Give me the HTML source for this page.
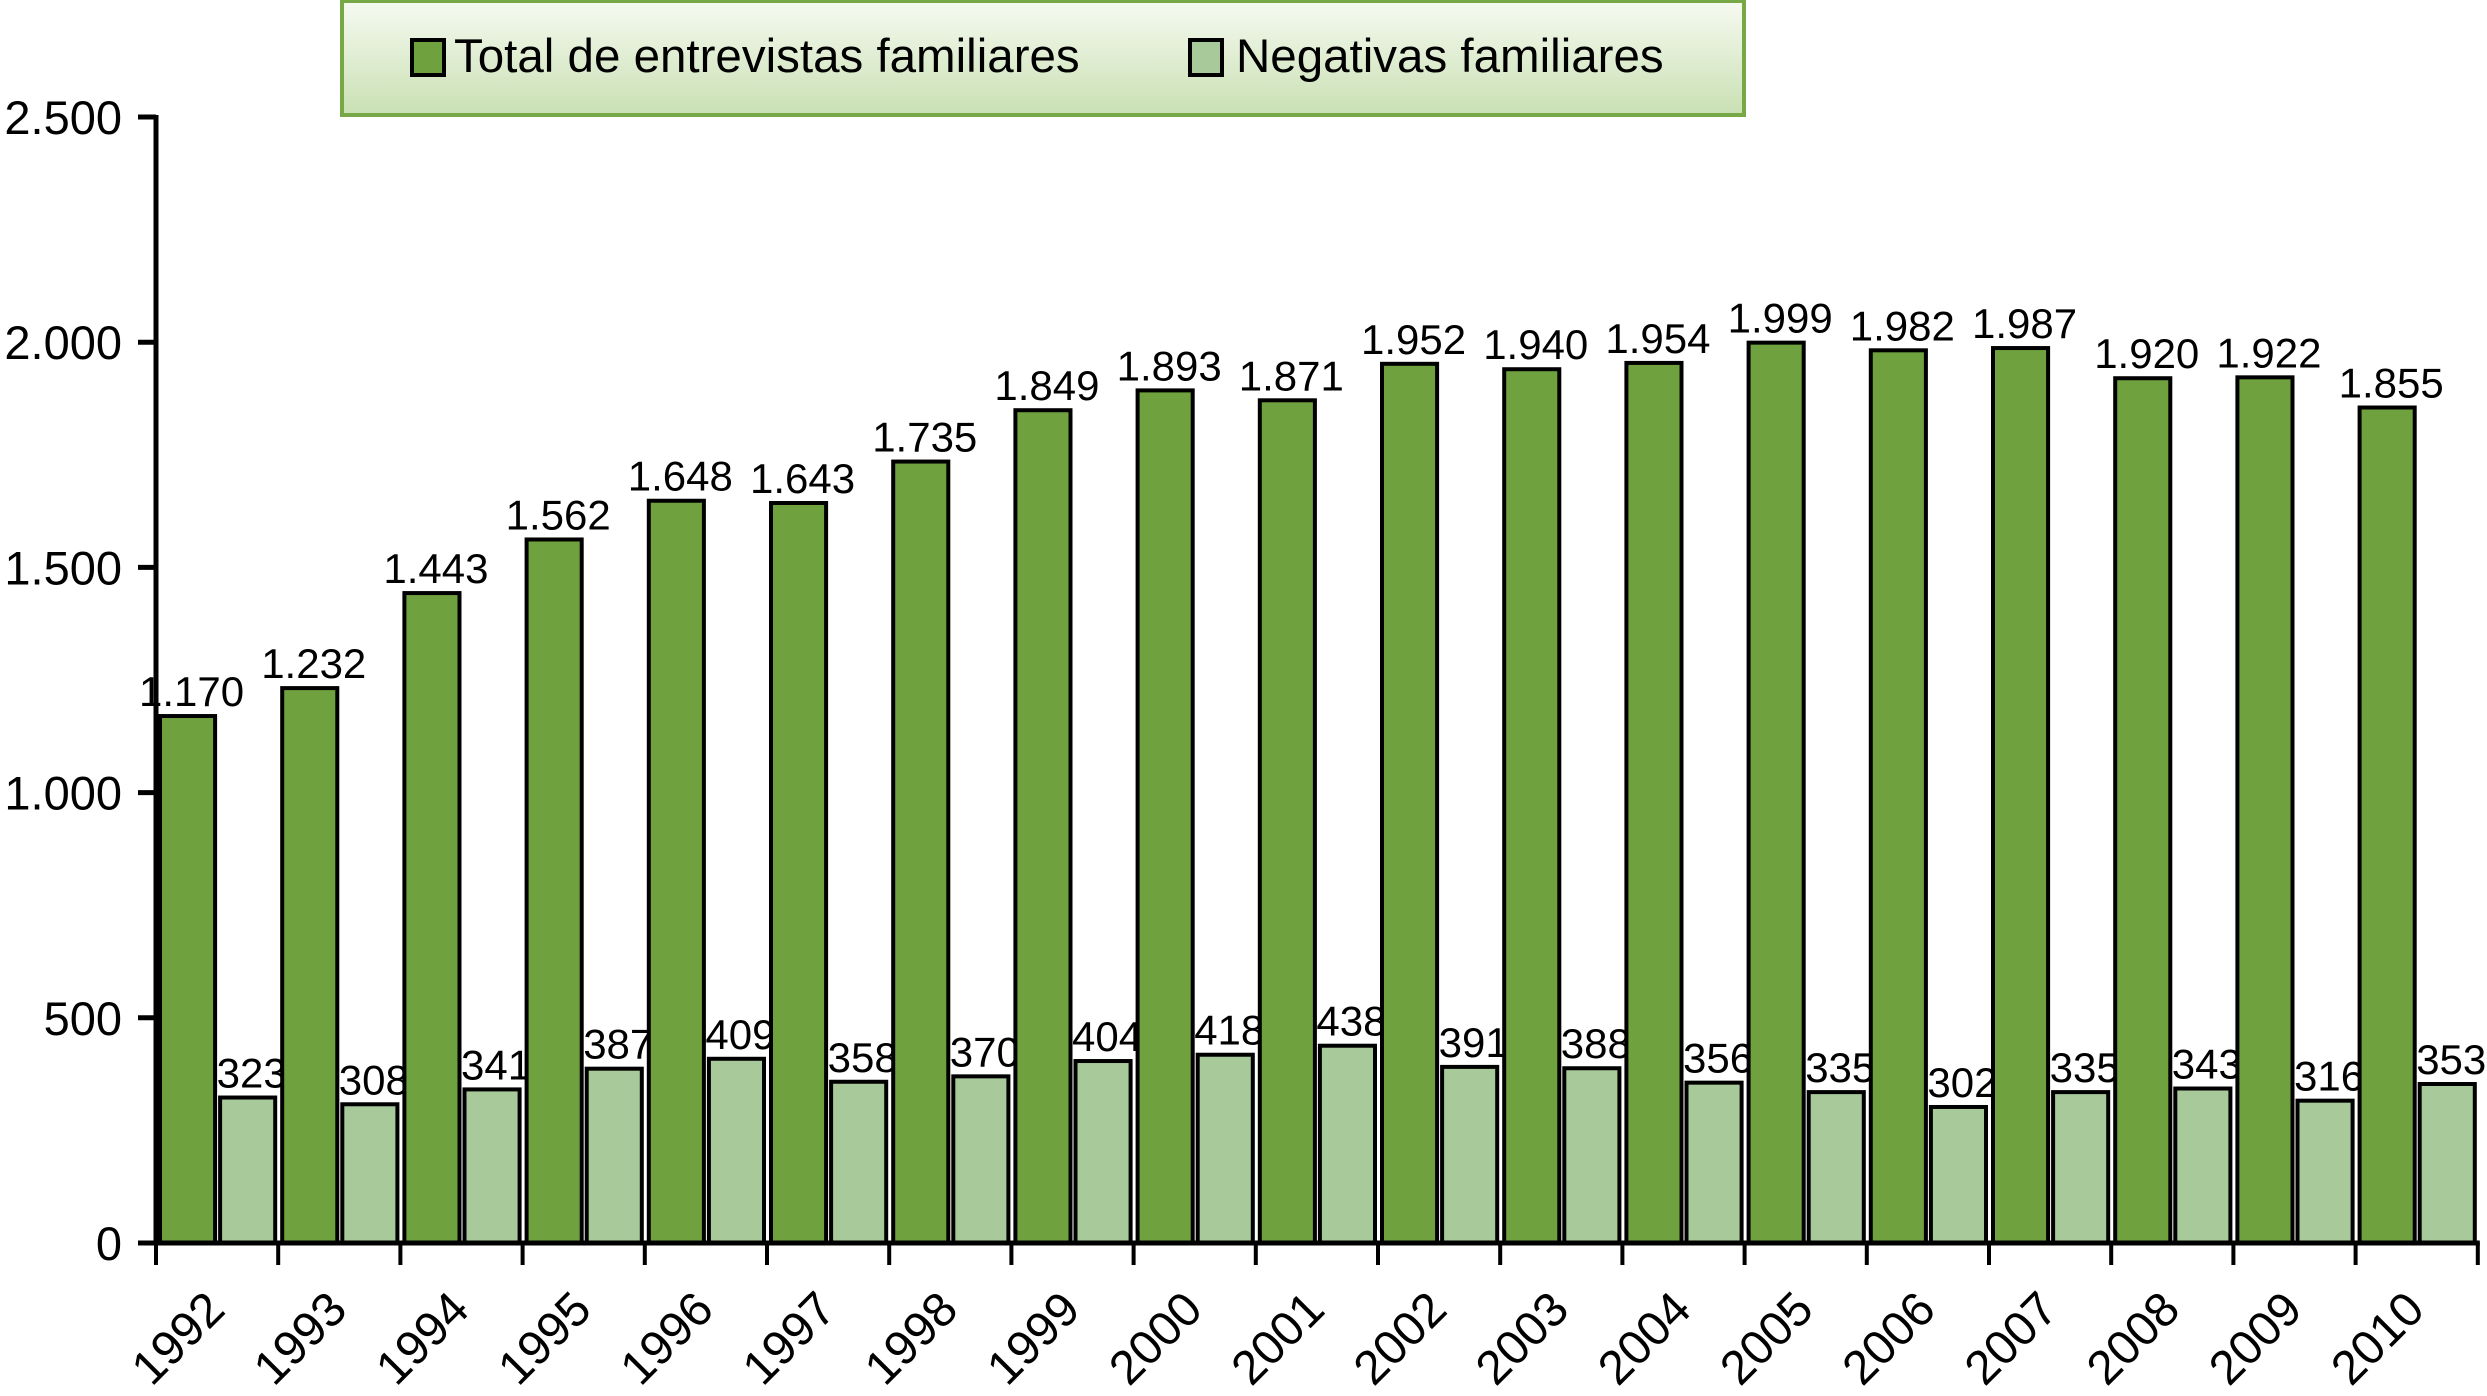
<!DOCTYPE html>
<html><head><meta charset="utf-8"><style>
html,body{margin:0;padding:0;background:#fff;}
svg{display:block;font-family:"Liberation Sans",Arial,sans-serif;}
</style></head><body>
<svg id="chart" width="2487" height="1396" viewBox="0 0 2487 1396">
<defs>
<linearGradient id="lg" x1="0" y1="0" x2="0" y2="1">
<stop offset="0" stop-color="#f6faf1"/><stop offset="1" stop-color="#c9e0b3"/>
</linearGradient>
</defs>
<g>
<rect x="342" y="1" width="1402" height="114" fill="url(#lg)" stroke="#76a846" stroke-width="4"/>
<rect x="412" y="40" width="32" height="35" fill="#6fa23f" stroke="#000" stroke-width="4"/>
<text x="454" y="72" font-size="47.5">Total de entrevistas familiares</text>
<rect x="1190" y="40" width="32" height="35" fill="#a8c99a" stroke="#000" stroke-width="4"/>
<text x="1236" y="72" font-size="47.5">Negativas familiares</text>
</g>
<g id="plot"></g>
</svg>
<script>
const years = ["1992","1993","1994","1995","1996","1997","1998","1999","2000","2001","2002","2003","2004","2005","2006","2007","2008","2009","2010"];
const totals = [1170,1232,1443,1562,1648,1643,1735,1849,1893,1871,1952,1940,1954,1999,1982,1987,1920,1922,1855];
const negativas = [323,308,341,387,409,358,370,404,418,438,391,388,356,335,302,335,343,316,353];
const yTicks = [0,500,1000,1500,2000,2500];
const yTickLabels = ["0","500","1.000","1.500","2.000","2.500"];

const NS = "http://www.w3.org/2000/svg";
const plot = document.getElementById('plot');
const x0 = 156, groupW = 122.2, yZero = 1243, yTop = 117, yMax = 2500;
function yScale(v){ return yZero - (v / yMax) * (yZero - yTop); }
function xGroup(i){ return x0 + i * groupW; }
function fmt(v){ const s = String(v); return s.length > 3 ? s.slice(0, s.length-3) + "." + s.slice(-3) : s; }
function mk(tag, attrs){ const e = document.createElementNS(NS, tag); for (const k in attrs) e.setAttribute(k, attrs[k]); plot.appendChild(e); return e; }

years.forEach((yr, i) => {
  const gx = xGroup(i);
  const bw = groupW/2 - 6;
  const tx = gx + 4, ty = yScale(totals[i]);
  const b1 = mk('rect', {x: tx, y: ty, width: bw, height: yZero - ty, fill: '#6fa23f', stroke: '#000', 'stroke-width': 4});
  
  
  const nx = gx + groupW/2 + 3, ny = yScale(negativas[i]);
  const b2 = mk('rect', {x: nx, y: ny, width: bw, height: yZero - ny, fill: '#a8c99a', stroke: '#000', 'stroke-width': 4});
  
  
  const l1 = mk('text', {x: tx + bw/2 + 4, y: ty - 10, 'font-size': 42, 'text-anchor': 'middle'});
  l1.textContent = fmt(totals[i]);
  
  
  const l2 = mk('text', {x: nx + bw/2 + 4, y: ny - 10, 'font-size': 42, 'text-anchor': 'middle'});
  l2.textContent = fmt(negativas[i]);
  
  
  const cx = gx + groupW/2 + 10;
  const xl = mk('text', {x: cx, y: 1312, 'font-size': 48, 'text-anchor': 'end', transform: 'rotate(-45 ' + cx + ' 1312)'});
  xl.textContent = yr;
  
  
});
for (let i = 0; i <= years.length; i++) {
  const t = mk('line', {x1: xGroup(i), x2: xGroup(i), y1: yZero, y2: yZero + 22, stroke: '#000', 'stroke-width': 4});
  
  
}
const ya = mk('line', {x1: x0, x2: x0, y1: yTop - 2, y2: yZero + 2, stroke: '#000', 'stroke-width': 5});


const xa = mk('line', {x1: 138, x2: xGroup(years.length) + 2, y1: yZero, y2: yZero, stroke: '#000', 'stroke-width': 5});


yTicks.forEach((v, i) => {
  const y = yScale(v);
  const t = mk('line', {x1: 138, x2: x0, y1: y, y2: y, stroke: '#000', 'stroke-width': 5});
  
  
  const l = mk('text', {x: 122, y: y + 17, 'font-size': 47, 'text-anchor': 'end'});
  l.textContent = yTickLabels[i];
  
  
});
</script>
</body></html>
